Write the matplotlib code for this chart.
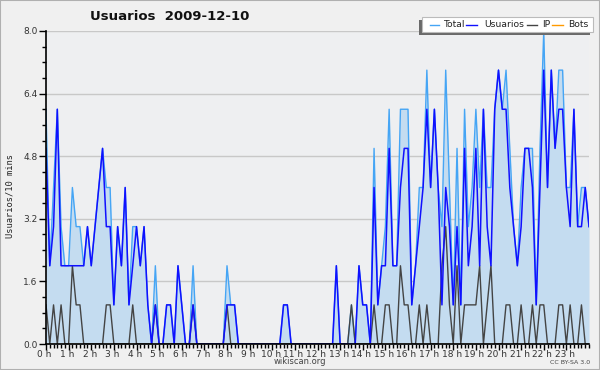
import matplotlib
matplotlib.use("Agg")
import matplotlib.pyplot as plt
import matplotlib.transforms as mtrans
import numpy as np
from matplotlib.lines import Line2D
from matplotlib.patches import Rectangle
from matplotlib.ticker import MultipleLocator

title = "Usuarios  2009-12-10"
ylabel = "Usuarios/10 mins"
hour_labels = [f"{h} h" for h in range(24)]
yticks = [0.0, 1.6, 3.2, 4.8, 6.4, 8.0]

total = [6, 2, 4, 6, 3, 2, 2, 4, 3, 3, 2, 3, 2, 3, 4, 5, 4, 4, 1, 3,
         2, 4, 1, 3, 3, 2, 3, 1, 0, 2, 0, 0, 1, 1, 0, 2, 1, 0, 0, 2,
         0, 0, 0, 0, 0, 0, 0, 0, 2, 1, 1, 0, 0, 0, 0, 0, 0, 0, 0, 0,
         0, 0, 0, 1, 1, 0, 0, 0, 0, 0, 0, 0, 0, 0, 0, 0, 0, 2, 0, 0,
         0, 1, 0, 2, 1, 1, 0, 5, 1, 2, 3, 6, 2, 2, 6, 6, 6, 1, 2, 4,
         4, 7, 4, 6, 4, 3, 7, 4, 1, 5, 1, 6, 3, 4, 6, 4, 6, 4, 4, 6,
         7, 6, 7, 5, 3, 2, 4, 5, 5, 5, 1, 5, 8, 4, 7, 5, 7, 7, 4, 4,
         6, 3, 4, 4, 3]
usuarios = [5, 2, 3, 6, 2, 2, 2, 2, 2, 2, 2, 3, 2, 3, 4, 5, 3, 3, 1, 3,
            2, 4, 1, 2, 3, 2, 3, 1, 0, 1, 0, 0, 1, 1, 0, 2, 1, 0, 0, 1,
            0, 0, 0, 0, 0, 0, 0, 0, 1, 1, 1, 0, 0, 0, 0, 0, 0, 0, 0, 0,
            0, 0, 0, 1, 1, 0, 0, 0, 0, 0, 0, 0, 0, 0, 0, 0, 0, 2, 0, 0,
            0, 0, 0, 2, 1, 1, 0, 4, 1, 2, 2, 5, 2, 2, 4, 5, 5, 1, 2, 3,
            4, 6, 4, 6, 4, 1, 4, 3, 1, 3, 1, 5, 2, 3, 5, 2, 6, 3, 2, 6,
            7, 6, 6, 4, 3, 2, 3, 5, 5, 4, 1, 4, 7, 4, 7, 5, 6, 6, 4, 3,
            6, 3, 3, 4, 3]
ip = [1, 0, 1, 0, 1, 0, 0, 2, 1, 1, 0, 0, 0, 0, 0, 0, 1, 1, 0, 0,
      0, 0, 0, 1, 0, 0, 0, 0, 0, 1, 0, 0, 0, 0, 0, 0, 0, 0, 0, 1,
      0, 0, 0, 0, 0, 0, 0, 0, 1, 0, 0, 0, 0, 0, 0, 0, 0, 0, 0, 0,
      0, 0, 0, 0, 0, 0, 0, 0, 0, 0, 0, 0, 0, 0, 0, 0, 0, 0, 0, 0,
      0, 1, 0, 0, 0, 0, 0, 1, 0, 0, 1, 1, 0, 0, 2, 1, 1, 0, 0, 1,
      0, 1, 0, 0, 0, 2, 3, 1, 0, 2, 0, 1, 1, 1, 1, 2, 0, 1, 2, 0,
      0, 0, 1, 1, 0, 0, 1, 0, 0, 1, 0, 1, 1, 0, 0, 0, 1, 1, 0, 1,
      0, 0, 1, 0, 0]
bots = [0] * 145

hours = np.arange(len(total)) / 6.0

W, H = 600, 370
fig = plt.figure(figsize=(6, 3.7), dpi=100, facecolor="#f0f0f0")
ax = fig.add_axes([46 / W, 1 - 344 / H, 543 / W, 313 / H])
ax.set_facecolor("#eeeff1")

c_total = "#45a5f5"
c_fill = "#c4dcf0"
c_user = "#1010ff"
c_ip = "#444444"
c_bots = "#ff9a00"

ax.fill_between(hours, 0, total, color=c_fill, lw=0, zorder=1)
ax.plot(hours, bots, color=c_bots, lw=1, zorder=2)
ax.plot(hours, total, color=c_total, lw=1, zorder=3)
ax.plot(hours, ip, color=c_ip, lw=1, zorder=4)
ax.plot(hours, usuarios, color=c_user, lw=1.1, zorder=5)

ax.set_xlim(0, 24)
ax.set_ylim(0, 8)
ax.set_yticks(yticks)
ax.set_yticklabels([f"{v:.1f}" for v in yticks])
ax.yaxis.set_minor_locator(MultipleLocator(0.4))
ax.set_xticks(range(24))
ax.set_xticklabels(hour_labels)
ax.xaxis.set_minor_locator(MultipleLocator(1 / 6))
ax.grid(axis="y", color="#c8c8c8", lw=1, zorder=0)
ax.set_axisbelow(True)
for s in ["top", "right"]:
    ax.spines[s].set_visible(False)
ax.spines["left"].set_linewidth(1.2)
ax.spines["bottom"].set_linewidth(1.2)
ax.spines["left"].set_zorder(6)
ax.spines["bottom"].set_zorder(6)
ax.tick_params(axis="y", which="major", length=5, width=1, labelsize=6.5,
               labelcolor="#333333", pad=1)
ax.tick_params(axis="y", which="minor", length=3, width=1)
ax.tick_params(axis="x", which="major", length=4, width=1, labelsize=6.5,
               labelcolor="#333333", pad=0)
ax.tick_params(axis="x", which="minor", length=3, width=1)
offset = mtrans.ScaledTranslation(-1.5 / 100, 0, fig.dpi_scale_trans)
for lab in ax.get_xticklabels():
    lab.set_transform(lab.get_transform() + offset)

fig.text(170 / W, 1 - 17 / H, title, fontsize=9.5, fontweight="bold",
         ha="center", va="center", color="#111111")
fig.text(10 / W, 1 - 196 / H, ylabel, fontsize=6.3, rotation=90,
         family="DejaVu Sans Mono", ha="center", va="center", color="#222222")
fig.text(300 / W, 1 - 362 / H, "wikiscan.org", fontsize=6, ha="center",
         va="center", color="#444444")
fig.text(570 / W, 1 - 362 / H, "CC BY-SA 3.0", fontsize=4.5, ha="center",
         va="center", color="#444444")


def px(x, y):
    return x / W, 1 - y / H


fig.add_artist(Rectangle(px(419, 35), 171 / W, 15 / H, transform=fig.transFigure,
                         facecolor="#6a6a6a", edgecolor="none", zorder=10))
fig.add_artist(Rectangle(px(422, 32), 171 / W, 15 / H, transform=fig.transFigure,
                         facecolor="white", edgecolor="#bbbbbb", lw=0.8, zorder=11))
entries = [("Total", c_total, 430, 439, 443), ("Usuarios", c_user, 466, 477, 484),
           ("IP", c_ip, 527, 537, 542), ("Bots", c_bots, 552, 563, 568)]
for name, col, x0, x1, xt in entries:
    fig.add_artist(Line2D([x0 / W, x1 / W], [1 - 24.5 / H] * 2, transform=fig.transFigure,
                          color=col, lw=1, zorder=12))
    fig.text(xt / W, 1 - 24.5 / H, name, fontsize=6.7, ha="left", va="center",
             color="#222222", zorder=12)

fig.add_artist(Rectangle((0, 0), 1, 1, transform=fig.transFigure, fill=False,
                         edgecolor="#b0b0b0", lw=1.5))

fig.savefig("out.png", dpi=100, facecolor=fig.get_facecolor())
